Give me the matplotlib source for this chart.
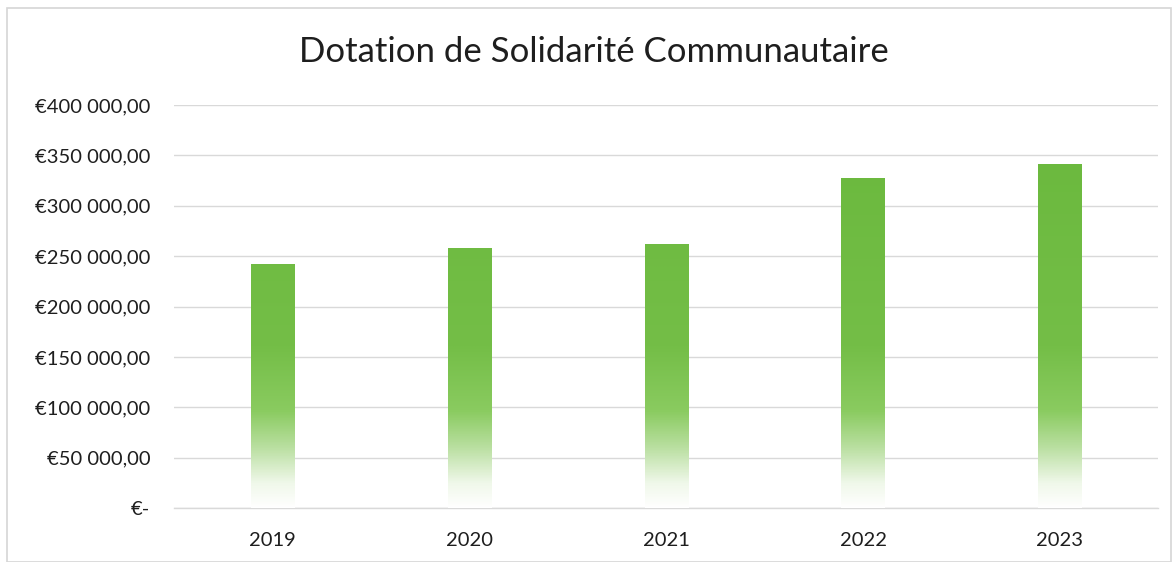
import numpy as np
import matplotlib
matplotlib.use("Agg")
import matplotlib.pyplot as plt
from matplotlib.colors import LinearSegmentedColormap
from matplotlib.patches import Rectangle
from matplotlib.ticker import FuncFormatter, MultipleLocator

# Data
years = ["2019", "2020", "2021", "2022", "2023"]
amounts = [242000, 258000, 262000, 327500, 341500]
title = "Dotation de Solidarité Communautaire"

plt.rcParams["font.family"] = ["Lato", "DejaVu Sans"]

fig = plt.figure(figsize=(11.76, 5.62), dpi=100)
fig.patch.set_facecolor("white")
ax = fig.add_axes([0.148, 0.096, 0.837, 0.717])

x = np.arange(len(years))
bars = ax.bar(x, amounts, width=0.22, color="none", edgecolor="none", zorder=3)

# Vertical gradient fill: solid green above, fading to white near the baseline
cmap = LinearSegmentedColormap.from_list(
    "greenfade",
    [(0.0, "#ffffff"), (0.06, "#f0f8ea"), (0.15, "#b9dfa0"),
     (0.24, "#8acb60"), (0.40, "#74be47"), (1.0, "#69b83c")])
ymax = 400000
grad = np.linspace(0, 1, 512).reshape(-1, 1)
for b in bars:
    x0, w, h = b.get_x(), b.get_width(), b.get_height()
    im = ax.imshow(grad, cmap=cmap, origin="lower", aspect="auto",
                   extent=(x0, x0 + w, 0, ymax), zorder=3, vmin=0, vmax=1)
    im.set_clip_path(b)

ax.set_xlim(-0.5, len(years) - 0.5)
ax.set_ylim(0, ymax)
ax.yaxis.set_major_locator(MultipleLocator(50000))


def euro(v, pos):
    if v == 0:
        return "€-"
    s = f"{int(v):,}".replace(",", " ")
    return f"€{s},00"


ax.yaxis.set_major_formatter(FuncFormatter(euro))
ax.set_xticks(x)
ax.set_xticklabels(years)
ax.tick_params(axis="both", length=0, labelsize=14.5, colors="#1e1e1e")
ax.tick_params(axis="y", pad=17)
ax.tick_params(axis="x", pad=17)
ax.grid(axis="y", color="#d9d9d9", linewidth=1.0, zorder=0)
ax.set_axisbelow(True)
for side in ["top", "right", "left"]:
    ax.spines[side].set_visible(False)
ax.spines["bottom"].set_color("#d9d9d9")
ax.spines["bottom"].set_linewidth(1.0)

fig.text(0.505, 0.908, title, ha="center", va="center", fontsize=25, color="#1e1e1e")

# Light chart border
fig.patches.append(Rectangle((0.006, 0.0), 0.99, 0.985, transform=fig.transFigure,
                             fill=False, edgecolor="#d6d6d6", linewidth=1.2))

fig.savefig("out.png", dpi=100)
